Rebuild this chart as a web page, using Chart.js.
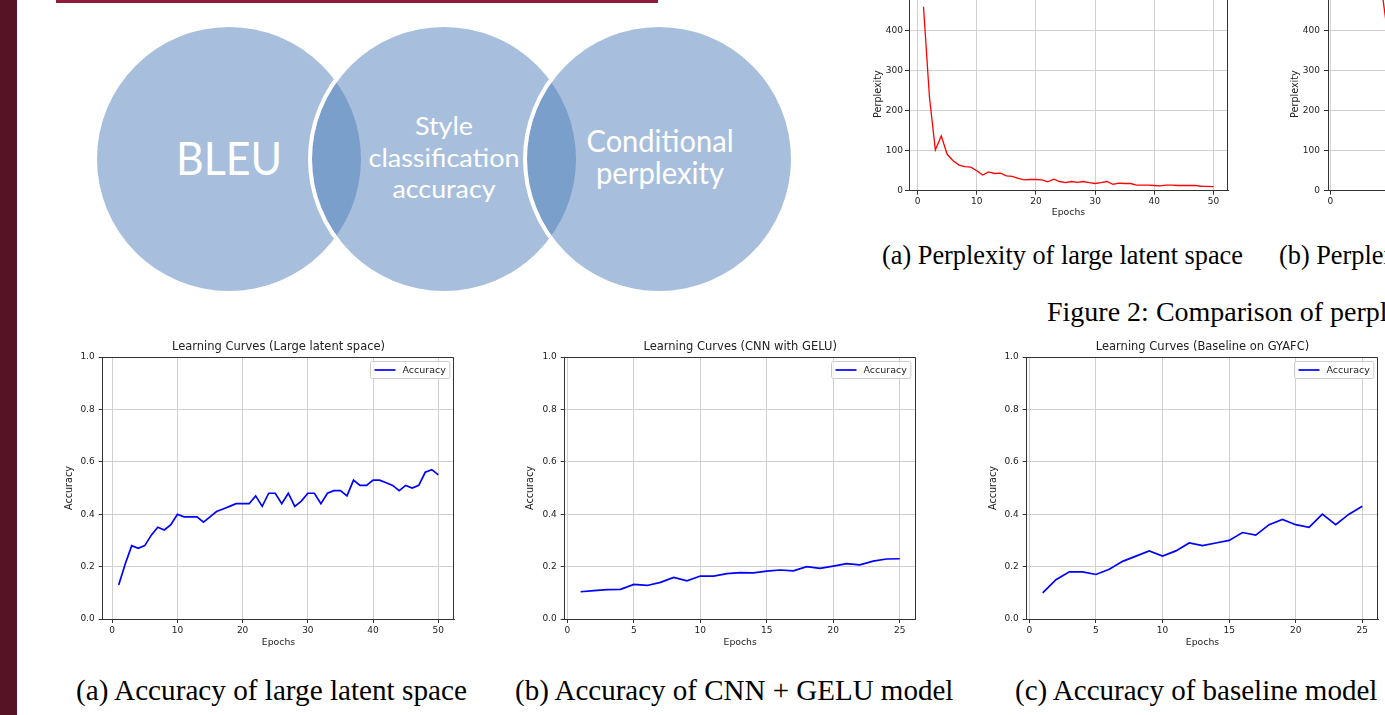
<!DOCTYPE html>
<html>
<head>
<meta charset="utf-8">
<title>Evaluation metrics and learning curves</title>
<script src="https://cdn.jsdelivr.net/npm/chart.js@4.4.1/dist/chart.umd.min.js"></script>
<style>
  html, body { margin: 0; padding: 0; }
  body { width: 1385px; height: 715px; overflow: hidden; position: relative; background: #fff; }
  .block { position: absolute; }
  .caption { position: absolute; font-family: "Liberation Serif", "Times New Roman", serif; color: #000; line-height: 1; white-space: nowrap; }
  canvas { position: absolute; }
  svg text { font-family: Lato, "Open Sans", sans-serif; fill: #fff; }
</style>
</head>
<body>

<div class="block" style="left:0;top:0;width:17px;height:715px;background:#561326"></div>
<div class="block" style="left:56px;top:0;width:602px;height:3px;background:#8d1c3d"></div>

<svg class="block" style="left:0;top:0" width="820" height="300">
  <defs>
    <clipPath id="inBleu"><circle cx="229" cy="159" r="132"/></clipPath>
    <clipPath id="inStyle"><circle cx="444" cy="159" r="132"/></clipPath>
  </defs>
  <circle cx="229" cy="159" r="132" fill="#a7bfdc"/>
  <circle cx="444" cy="159" r="132" fill="#a7bfdc"/>
  <circle cx="659" cy="159" r="132" fill="#a7bfdc"/>
  <circle cx="444" cy="159" r="132" fill="#7b9fcb" clip-path="url(#inBleu)"/>
  <circle cx="659" cy="159" r="132" fill="#7b9fcb" clip-path="url(#inStyle)"/>
  <circle cx="444" cy="159" r="134" fill="none" stroke="#fff" stroke-width="4" clip-path="url(#inBleu)"/>
  <circle cx="659" cy="159" r="134" fill="none" stroke="#fff" stroke-width="4" clip-path="url(#inStyle)"/>
  <text x="229" y="175" font-size="46" text-anchor="middle" textLength="106" lengthAdjust="spacingAndGlyphs">BLEU</text>
  <text x="444" y="135" font-size="25.5" text-anchor="middle" textLength="58" lengthAdjust="spacingAndGlyphs">Style</text>
  <text x="444" y="167" font-size="25.5" text-anchor="middle" textLength="151" lengthAdjust="spacingAndGlyphs">classification</text>
  <text x="444" y="198" font-size="25.5" text-anchor="middle" textLength="103" lengthAdjust="spacingAndGlyphs">accuracy</text>
  <text x="660" y="152" font-size="30" text-anchor="middle" textLength="147" lengthAdjust="spacingAndGlyphs">Conditional</text>
  <text x="660" y="184" font-size="30" text-anchor="middle" textLength="128" lengthAdjust="spacingAndGlyphs">perplexity</text>
</svg>

<canvas id="perplexityLarge" width="390" height="245" style="left:850px;top:-20px"></canvas>
<canvas id="perplexityOther" width="390" height="245" style="left:1270px;top:-20px"></canvas>

<div class="caption" style="left:882px;top:243px;font-size:26.3px">(a) Perplexity of large latent space</div>
<div class="caption" style="left:1279px;top:243px;font-size:26.3px">(b) Perplexity</div>
<div class="caption" style="left:1047px;top:298px;font-size:28px">Figure 2: Comparison of perplexity</div>

<canvas id="accLarge" width="410" height="320" style="left:55px;top:335px"></canvas>
<canvas id="accCnn" width="410" height="320" style="left:515px;top:335px"></canvas>
<canvas id="accBaseline" width="410" height="320" style="left:975px;top:335px"></canvas>

<div class="caption" style="left:76px;top:676px;font-size:29.2px">(a) Accuracy of large latent space</div>
<div class="caption" style="left:515px;top:676px;font-size:29px">(b) Accuracy of CNN + GELU model</div>
<div class="caption" style="left:1015px;top:676px;font-size:29px">(c) Accuracy of baseline model</div>

<script>
// epochs
const epochs50 = [1, 2, 3, 4, 5, 6, 7, 8, 9, 10, 11, 12, 13, 14, 15, 16, 17, 18, 19, 20,
  21, 22, 23, 24, 25, 26, 27, 28, 29, 30, 31, 32, 33, 34, 35, 36, 37, 38, 39, 40,
  41, 42, 43, 44, 45, 46, 47, 48, 49, 50];
const epochs25 = [1, 2, 3, 4, 5, 6, 7, 8, 9, 10, 11, 12, 13, 14, 15, 16, 17, 18, 19, 20,
  21, 22, 23, 24, 25];

// perplexity (top right)
const perplexityLarge = [460, 235, 102, 137, 91, 75, 64, 60, 59, 50,
  39, 47, 43, 44, 37, 36, 31, 27, 28, 28,
  27, 22, 29, 23, 20, 23, 21, 23, 20, 18,
  20, 23, 16, 19, 18, 18, 14, 14, 14, 13,
  12, 14, 14, 13, 13, 13, 13, 11, 11, 10];
// only the start of the second panel is visible
const perplexityOther = [880, 720, 610, 560, 330];

// accuracy (bottom row)
const accuracyLarge = [0.13, 0.21, 0.28, 0.27, 0.28, 0.32, 0.35, 0.34, 0.36, 0.40,
  0.39, 0.39, 0.39, 0.37, 0.39, 0.41, 0.42, 0.43, 0.44, 0.44,
  0.44, 0.47, 0.43, 0.48, 0.48, 0.44, 0.48, 0.43, 0.45, 0.48,
  0.48, 0.44, 0.48, 0.49, 0.49, 0.47, 0.53, 0.51, 0.51, 0.53,
  0.53, 0.52, 0.51, 0.49, 0.51, 0.50, 0.51, 0.56, 0.57, 0.55];
const accuracyCnnGelu = [0.104, 0.108, 0.112, 0.113, 0.132, 0.128, 0.140, 0.159, 0.146, 0.164,
  0.164, 0.173, 0.177, 0.176, 0.183, 0.187, 0.184, 0.200, 0.193, 0.202,
  0.211, 0.207, 0.221, 0.229, 0.230];
const accuracyBaseline = [0.10, 0.15, 0.18, 0.18, 0.17, 0.19, 0.22, 0.24, 0.26, 0.24,
  0.26, 0.29, 0.28, 0.29, 0.30, 0.33, 0.32, 0.36, 0.38, 0.36,
  0.35, 0.40, 0.36, 0.40, 0.43];

// tick labels
const ticks50 = [0, 10, 20, 30, 40, 50];
const ticks25 = [0, 5, 10, 15, 20, 25];
const accuracyTicks = [0, 0.2, 0.4, 0.6, 0.8, 1.0];
const perplexityTicks = [0, 100, 200, 300, 400];

const FONT = '"DejaVu Sans", sans-serif';
const TEXT = "#222222";
const SPINE = "#333333";
const GRID = "#d0d0d0";

// matplotlib look: top/right spines, title above the axes, legend box inside
const mplDecor = {
  id: "mplDecor",
  afterDraw(chart, args, opts) {
    const { ctx, chartArea: a } = chart;
    const top = Math.round(a.top) + 0.5;
    const right = Math.round(a.right) - 0.5;

    ctx.save();
    ctx.strokeStyle = SPINE;
    ctx.lineWidth = 1;
    ctx.beginPath();
    ctx.moveTo(a.left, top);
    ctx.lineTo(right, top);
    ctx.lineTo(right, a.bottom);
    ctx.stroke();

    if (opts.title) {
      ctx.fillStyle = TEXT;
      ctx.font = `11.5px ${FONT}`;
      ctx.textAlign = "center";
      ctx.textBaseline = "alphabetic";
      ctx.fillText(opts.title, (a.left + a.right) / 2, a.top - 7);
    }

    if (opts.legend) {
      const ds = chart.data.datasets[0];
      ctx.font = `9.5px ${FONT}`;
      const tw = ctx.measureText(ds.label).width;
      const w = 32 + tw + 4;
      const h = 17;
      const x0 = Math.round(a.right - 5 - w) + 0.5;
      const y0 = Math.round(a.top + 4) + 0.5;
      ctx.fillStyle = "rgba(255,255,255,0.8)";
      ctx.strokeStyle = "#cccccc";
      ctx.beginPath();
      ctx.roundRect(x0, y0, w, h, 2);
      ctx.fill();
      ctx.stroke();
      ctx.strokeStyle = ds.borderColor;
      ctx.lineWidth = ds.borderWidth;
      ctx.beginPath();
      ctx.moveTo(x0 + 4, y0 + h / 2);
      ctx.lineTo(x0 + 25, y0 + h / 2);
      ctx.stroke();
      ctx.fillStyle = TEXT;
      ctx.textAlign = "left";
      ctx.textBaseline = "middle";
      ctx.fillText(ds.label, x0 + 32, y0 + h / 2 + 0.5);
    }
    ctx.restore();
  }
};

function fixedTicks(list) {
  return (scale) => {
    scale.ticks = list.map((v) => ({ value: v }));
  };
}

function drawCurve(canvasId, cfg) {
  const points = cfg.values.map((v, i) => ({ x: cfg.epochs[i], y: v }));

  return new Chart(document.getElementById(canvasId), {
    type: "line",
    data: {
      datasets: [
        {
          label: cfg.label,
          data: points,
          borderColor: cfg.color,
          borderWidth: cfg.lineWidth,
          pointRadius: 0,
          tension: 0,
          fill: false
        }
      ]
    },
    options: {
      responsive: false,
      animation: false,
      events: [],
      layout: { padding: { top: cfg.padTop, right: cfg.padRight, left: 0, bottom: 0 } },
      plugins: {
        legend: { display: false },
        tooltip: { enabled: false },
        mplDecor: { title: cfg.title, legend: cfg.showLegend }
      },
      scales: {
        x: {
          type: "linear",
          min: cfg.xMin,
          max: cfg.xMax,
          afterBuildTicks: fixedTicks(cfg.xTicks),
          afterFit: (scale) => { scale.height = cfg.xHeight; },
          ticks: {
            color: TEXT,
            font: { family: FONT, size: 9 },
            padding: 2,
            maxRotation: 0,
            callback: (v) => String(v)
          },
          grid: { color: GRID, lineWidth: 1, tickColor: SPINE, tickLength: 4 },
          border: { display: true, color: SPINE, width: 1 },
          title: {
            display: true,
            text: "Epochs",
            color: TEXT,
            font: { family: FONT, size: 9.3 },
            padding: { top: 0, bottom: 6.4 }
          }
        },
        y: {
          type: "linear",
          min: cfg.yMin,
          max: cfg.yMax,
          afterBuildTicks: fixedTicks(cfg.yTicks),
          afterFit: (scale) => { scale.width = cfg.yWidth; },
          ticks: {
            color: TEXT,
            font: { family: FONT, size: 9 },
            padding: cfg.yTickPad,
            callback: cfg.yFormat
          },
          grid: { color: GRID, lineWidth: 1, tickColor: SPINE, tickLength: 4 },
          border: { display: true, color: SPINE, width: 1 },
          title: {
            display: true,
            text: cfg.yLabel,
            color: TEXT,
            font: { family: FONT, size: 9.6 },
            padding: { top: cfg.yTitlePad, bottom: 0 }
          }
        }
      }
    },
    plugins: [mplDecor]
  });
}

const accuracyBase = {
  label: "Accuracy",
  color: "#0000ff",
  lineWidth: 1.7,
  showLegend: true,
  yMin: 0,
  yMax: 1,
  yTicks: accuracyTicks,
  yFormat: (v) => Number(v).toFixed(1),
  yLabel: "Accuracy",
  yTickPad: 4,
  padTop: 22,
  xHeight: 36
};

drawCurve("accLarge", {
  ...accuracyBase,
  title: "Learning Curves (Large latent space)",
  epochs: epochs50,
  values: accuracyLarge,
  xMin: -1.45,
  xMax: 52.45,
  xTicks: ticks50,
  yWidth: 47.7,
  yTitlePad: 9.2,
  padRight: 10.7
});

drawCurve("accCnn", {
  ...accuracyBase,
  title: "Learning Curves (CNN with GELU)",
  epochs: epochs25,
  values: accuracyCnnGelu,
  xMin: -0.2,
  xMax: 26.2,
  xTicks: ticks25,
  yWidth: 49.7,
  yTitlePad: 10.2,
  padRight: 9.3
});

drawCurve("accBaseline", {
  ...accuracyBase,
  title: "Learning Curves (Baseline on GYAFC)",
  epochs: epochs25,
  values: accuracyBaseline,
  xMin: -0.2,
  xMax: 26.2,
  xTicks: ticks25,
  yWidth: 51.7,
  yTitlePad: 13.2,
  padRight: 6.7
});

const perplexityBase = {
  label: "Perplexity",
  color: "#ff0000",
  lineWidth: 1.3,
  showLegend: false,
  title: "",
  yMin: 0,
  yMax: 483,
  yTicks: perplexityTicks,
  yFormat: (v) => String(v),
  yLabel: "Perplexity",
  padTop: 17.5,
  xHeight: 34.3
};

drawCurve("perplexityLarge", {
  ...perplexityBase,
  epochs: epochs50,
  values: perplexityLarge,
  xMin: -1.45,
  xMax: 52.45,
  xTicks: ticks50,
  yWidth: 59,
  yTickPad: 2,
  yTitlePad: 22.5,
  padRight: 12
});

drawCurve("perplexityOther", {
  ...perplexityBase,
  epochs: epochs25,
  values: perplexityOther,
  xMin: -0.2,
  xMax: 26.2,
  xTicks: ticks25,
  yWidth: 58,
  yTickPad: 4,
  yTitlePad: 19.9,
  padRight: 13
});
</script>
</body>
</html>
